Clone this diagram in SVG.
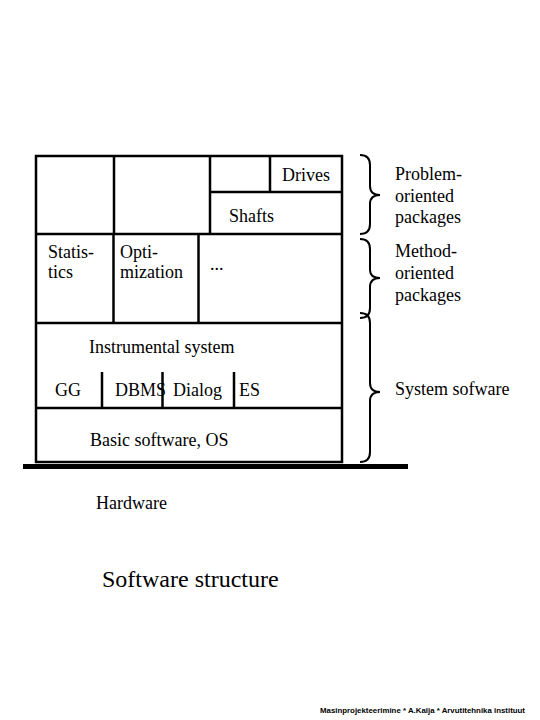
<svg xmlns="http://www.w3.org/2000/svg" width="540" height="720" viewBox="0 0 540 720">
<style>
.ln{stroke:#000;stroke-width:2.5;fill:none}
.br{stroke:#000;stroke-width:2;fill:none}
.t{font-family:'Liberation Serif','DejaVu Serif','Times New Roman',Times,serif;font-size:18px;fill:#000}
.title{font-size:24px}
.foot{font-family:'Liberation Sans','DejaVu Sans',Arial,sans-serif;font-size:8px;font-weight:bold;fill:#000}
</style>
<rect width="540" height="720" fill="#fff"/>
<g id="connectors">
<rect class="ln" x="36" y="156" width="306" height="306"/>
<line class="ln" x1="36" y1="234" x2="342" y2="234"/>
<line class="ln" x1="36" y1="323" x2="342" y2="323"/>
<line class="ln" x1="36" y1="408" x2="342" y2="408"/>
<line class="ln" x1="114" y1="156" x2="114" y2="234"/>
<line class="ln" x1="210" y1="156" x2="210" y2="234"/>
<line class="ln" x1="210" y1="192" x2="342" y2="192"/>
<line class="ln" x1="270" y1="156" x2="270" y2="192"/>
<line class="ln" x1="113.5" y1="234" x2="113.5" y2="323"/>
<line class="ln" x1="198.5" y1="234" x2="198.5" y2="323"/>
<line class="ln" x1="102" y1="372" x2="102" y2="408"/>
<line class="ln" x1="162.5" y1="372" x2="162.5" y2="408"/>
<line class="ln" x1="234" y1="372" x2="234" y2="408"/>
<line x1="23" y1="466.5" x2="408" y2="466.5" stroke="#000" stroke-width="5"/>
<path class="br" d="M360,155 Q370,155 370,165 L370,186 Q370,195 380,195 Q370,195 370,204 L370,224 Q370,234 360,234"/>
<path class="br" d="M360,239 Q370,239 370,249 L370,270 Q370,278 380,278 Q370,278 370,287 L370,308 Q370,318 360,318"/>
<path class="br" d="M360,313 Q370,313 370,323 L370,383 Q370,392 380,392 Q370,392 370,401 L370,452 Q370,462 360,462"/>
</g>
<g id="drives"><text class="t" x="282" y="181">Drives</text></g>
<g id="shafts"><text class="t" x="229" y="222">Shafts</text></g>
<g id="statistics"><text class="t" x="48" y="258">Statis-</text><text class="t" x="48" y="278">tics</text></g>
<g id="optimization"><text class="t" x="120" y="258">Opti-</text><text class="t" x="120" y="278">mization</text></g>
<g id="ellipsis"><text class="t" x="210" y="270">...</text></g>
<g id="instrumental"><text class="t" x="89" y="353">Instrumental system</text></g>
<g id="gg"><text class="t" x="55" y="396">GG</text></g>
<g id="dbms"><text class="t" x="115" y="396">DBMS</text></g>
<g id="dialog"><text class="t" x="173" y="396">Dialog</text></g>
<g id="es"><text class="t" x="239" y="396">ES</text></g>
<g id="basic"><text class="t" x="90" y="446">Basic software, OS</text></g>
<g id="hardware"><text class="t" x="96" y="509">Hardware</text></g>
<g id="problem"><text class="t" x="395" y="180">Problem-</text><text class="t" x="395" y="201.5">oriented</text><text class="t" x="395" y="223">packages</text></g>
<g id="method"><text class="t" x="395" y="257">Method-</text><text class="t" x="395" y="279">oriented</text><text class="t" x="395" y="301">packages</text></g>
<g id="system"><text class="t" x="395" y="395">System sofware</text></g>
<g id="title"><text class="t title" x="102" y="587">Software structure</text></g>
<g id="footer"><text class="foot" x="320" y="713" textLength="205" lengthAdjust="spacingAndGlyphs">Masinprojekteerimine * A.Kalja * Arvutitehnika instituut</text></g>
</svg>
